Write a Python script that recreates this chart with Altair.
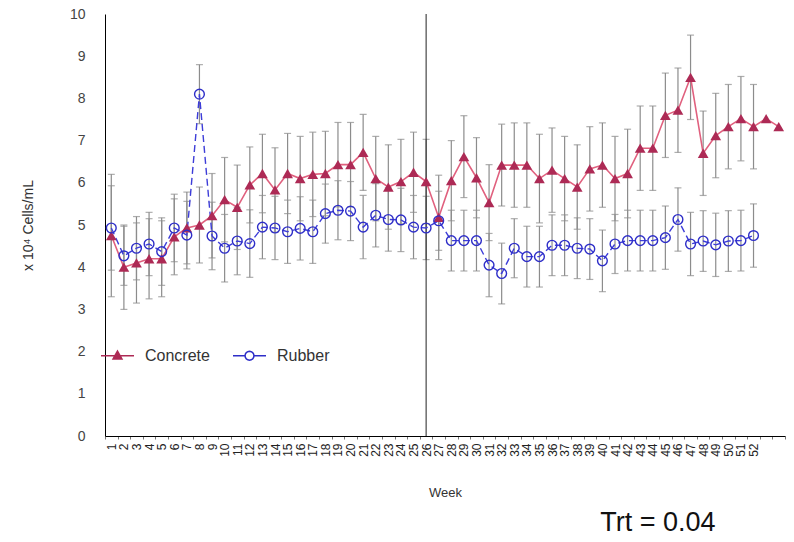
import math
import altair as alt
import pandas as pd

weeks = list(range(1, 55))

concrete = [4.75, 4.0, 4.1, 4.2, 4.2, 4.72, 4.93, 5.0, 5.22, 5.6,
            5.42, 5.95, 6.22, 5.83, 6.22, 6.1, 6.2, 6.22, 6.43, 6.43,
            6.72, 6.1, 5.9, 6.03, 6.25, 6.03, 5.18, 6.05, 6.62, 6.12,
            5.53, 6.42, 6.42, 6.42, 6.1, 6.3, 6.1, 5.9, 6.33, 6.42,
            6.1, 6.22, 6.82, 6.82, 7.6, 7.72, 8.5, 6.7, 7.12, 7.33,
            7.52, 7.33, 7.52, 7.33]
concrete_err = [1.45, 1.0, 0.95, 0.95, 0.9, 0.9, 0.85, 0.9, 1.0, 1.0,
                1.0, 0.9, 0.93, 1.0, 0.95, 1.0, 1.0, 1.0, 1.0, 1.0,
                0.9, 1.0, 1.0, 1.0, 0.95, 1.0, 1.0, 0.95, 0.97, 0.95,
                0.9, 0.97, 1.0, 1.0, 1.05, 1.0, 1.0, 1.0, 1.0, 1.0,
                1.0, 1.05, 1.0, 1.0, 1.0, 1.0, 1.0, 1.0, 1.0, 1.0,
                1.0, 1.0, None, None]

rubber = [4.93, 4.27, 4.45, 4.55, 4.37, 4.93, 4.76, 8.1, 4.74, 4.45,
          4.62, 4.56, 4.95, 4.93, 4.84, 4.92, 4.84, 5.27, 5.35, 5.33,
          4.95, 5.23, 5.13, 5.12, 4.95, 4.93, 5.1, 4.63, 4.63, 4.63,
          4.05, 3.85, 4.45, 4.25, 4.25, 4.52, 4.52, 4.45, 4.43, 4.15,
          4.55, 4.63, 4.63, 4.63, 4.7, 5.13, 4.55, 4.62, 4.53, 4.62,
          4.63, 4.75, None, None]
rubber_err = [1.0, 0.7, 0.75, 0.75, 0.8, 0.8, 0.8, 0.7, 0.8, 0.8,
              0.8, 0.8, 0.75, 0.75, 0.75, 0.75, 0.75, 0.7, 0.7, 0.7,
              0.75, 0.75, 0.75, 0.75, 0.75, 0.75, 0.7, 0.72, 0.72, 0.72,
              0.75, 0.72, 0.7, 0.72, 0.72, 0.72, 0.72, 0.72, 0.72, 0.73,
              0.7, 0.72, 0.72, 0.72, 0.75, 0.75, 0.75, 0.72, 0.75, 0.72,
              0.72, 0.75, None, None]

series_names = ["Concrete", "Rubber"]
divider_week = 26
last_labelled_week = 52

rows = []
for name, vals, errs in [("Concrete", concrete, concrete_err), ("Rubber", rubber, rubber_err)]:
    for w, v, e in zip(weeks, vals, errs):
        lo = v - e if (v is not None and e is not None) else None
        hi = v + e if (v is not None and e is not None) else None
        rows.append({"week": w, "series": name, "value": v, "lo": lo, "hi": hi})
df = pd.DataFrame(rows)

C_DARK = "#ad2a55"
C_LINE = "#e0607e"
R_DARK = "#2e2ec8"
R_LINE = "#3d3dd8"
ERR = "#8c8c8c"
FONT = "Liberation Sans"

x_enc = alt.X(
    "week:O",
    scale=alt.Scale(domain=weeks, paddingInner=0, paddingOuter=0),
    axis=alt.Axis(
        title="Week", labelAngle=270, labelFontSize=12, labelPadding=4,
        labelExpr=f"datum.value <= {last_labelled_week} ? datum.label : ''",
        labelOverlap=False, labelColor="#222", tickSize=3, tickColor="#777",
        tickBand="extent", titleFontSize=13, titleFontWeight="normal",
        titleColor="#333", titlePadding=30,
    ),
)
y_scale = alt.Scale(domain=[0, 10], nice=False, zero=True)
y_enc = alt.Y(
    "value:Q", scale=y_scale,
    axis=alt.Axis(
        values=list(range(11)), title="x 10⁴ Cells/mL", labelFontSize=14,
        labelColor="#444", labelPadding=20, tickSize=0, grid=False,
        titleFontSize=14, titleFontWeight="normal", titleColor="#333",
        titlePadding=34,
    ),
)

base = alt.Chart(df)

err_rule = base.mark_rule(color=ERR, strokeWidth=1.2).encode(
    x=x_enc, y=alt.Y("lo:Q", scale=y_scale), y2="hi:Q")
cap_lo = base.mark_tick(color=ERR, thickness=1.2, size=7, orient="horizontal").encode(
    x=x_enc, y=alt.Y("lo:Q", scale=y_scale))
cap_hi = base.mark_tick(color=ERR, thickness=1.2, size=7, orient="horizontal").encode(
    x=x_enc, y=alt.Y("hi:Q", scale=y_scale))

divider = alt.Chart(pd.DataFrame({"week": [divider_week]})).mark_rule(
    color="#222", strokeWidth=1).encode(x=alt.X("week:O"))

c_line = base.transform_filter(alt.datum.series == "Concrete").mark_line(
    color=C_LINE, strokeWidth=1.6).encode(x=x_enc, y=y_enc)
r_line = base.transform_filter(alt.datum.series == "Rubber").mark_line(
    color=R_LINE, strokeWidth=1.4, strokeDash=[7, 4]).encode(x=x_enc, y=y_enc)

c_pts = base.transform_filter(alt.datum.series == "Concrete").mark_point(
    shape="triangle-up", filled=True, size=115, color=C_DARK, opacity=1).encode(x=x_enc, y=y_enc)
r_pts = base.transform_filter(alt.datum.series == "Rubber").mark_point(
    shape="circle", filled=False, size=95, color=R_DARK, strokeWidth=1.4, opacity=1).encode(x=x_enc, y=y_enc)

# legend symbols: line with marker
tri = "M0,-0.28L0.27,0.2L-0.27,0.2Z"
n = 16
circ_pts = [(0.27 * math.cos(2 * math.pi * k / n), 0.27 * math.sin(2 * math.pi * k / n)) for k in range(n)]
circ = "M" + "L".join(f"{px:.3f},{py:.3f}" for px, py in circ_pts) + "Z"
path_c = "M-1,0L1,0" + tri
path_r = "M-1,0L-0.27,0M0.27,0L1,0" + circ

leg = alt.Legend(
    title=None, orient="none", legendX=-5, legendY=324, direction="horizontal",
    symbolSize=1089, symbolStrokeWidth=1.5, labelFontSize=16, labelFont=FONT,
    labelColor="#333", labelOffset=10, columnPadding=20, padding=0,
)
legend_layer = base.transform_filter("false").mark_point(
    size=1089, strokeWidth=1.5, opacity=1).encode(
    shape=alt.Shape("series:N", scale=alt.Scale(domain=series_names, range=[path_c, path_r]), legend=leg),
    stroke=alt.Stroke("series:N", scale=alt.Scale(domain=series_names, range=[C_DARK, R_DARK]), legend=leg),
    fill=alt.Fill("series:N", scale=alt.Scale(domain=series_names, range=[C_DARK, "transparent"]), legend=leg),
)

chart = alt.layer(
    err_rule, cap_lo, cap_hi, divider, c_line, r_line, c_pts, r_pts, legend_layer
).properties(
    width=680, height=422,
    autosize=alt.AutoSizeParams(type="none"),
    padding={"left": 105, "top": 14, "right": 9, "bottom": 106},
    title=alt.TitleParams(
        text="Trt = 0.04", orient="bottom", anchor="end", fontSize=27, font=FONT,
        fontWeight="normal", color="#111", dx=-70, offset=11,
    ),
).configure_view(
    fill="#eeeeee", stroke="transparent"
).configure_axis(
    domainColor="#000", domainWidth=1, labelFont=FONT, titleFont=FONT,
)

chart.save("out.html", embed_options={"renderer": "svg", "actions": False})
